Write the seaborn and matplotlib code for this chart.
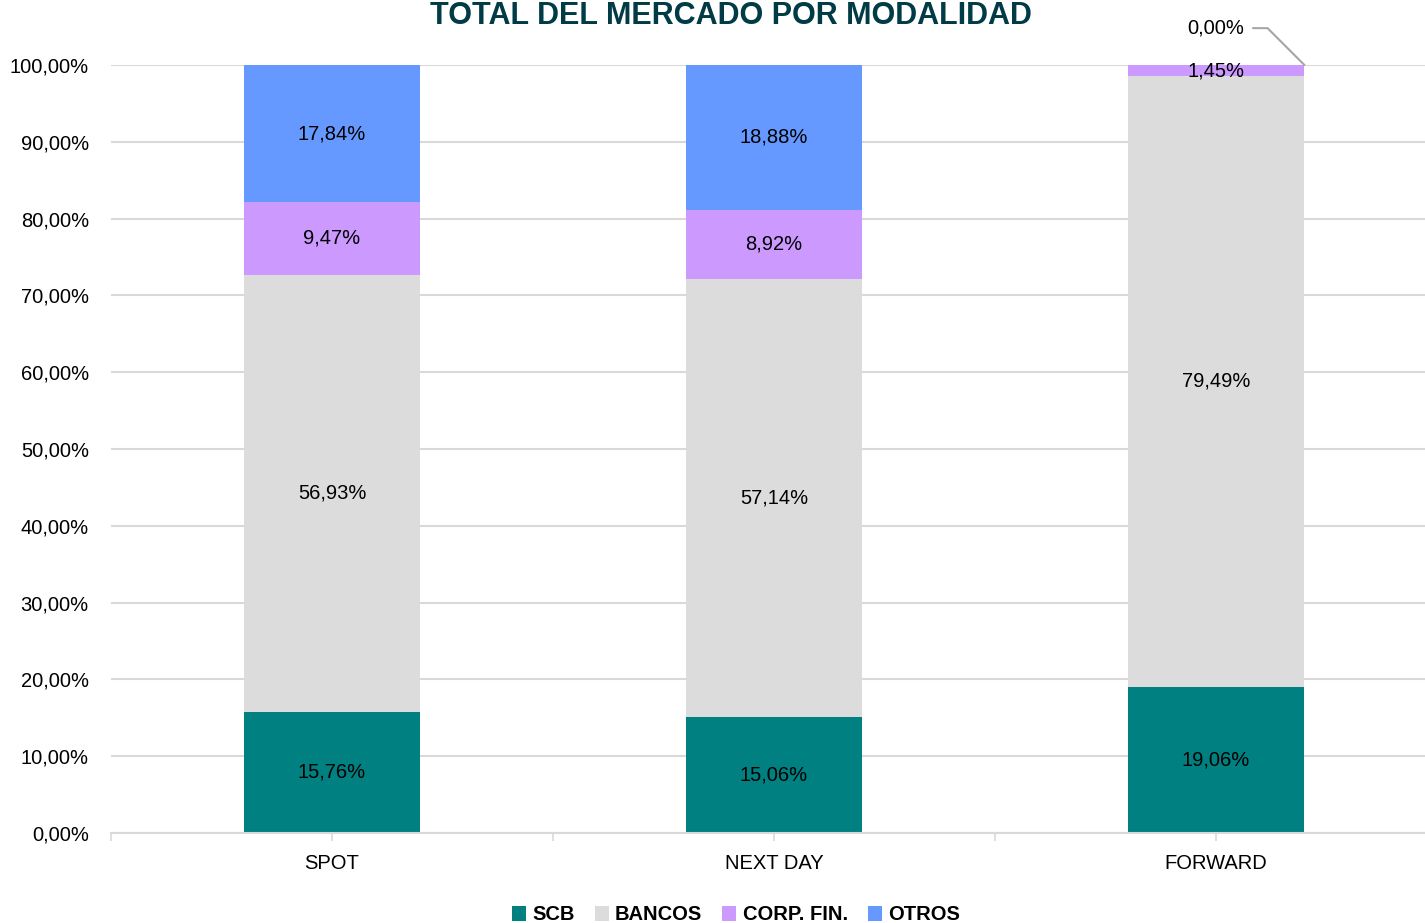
import numpy as np
import pandas as pd
import matplotlib
matplotlib.use("Agg")
import matplotlib.pyplot as plt
from matplotlib import font_manager
from matplotlib.ticker import FuncFormatter, FixedLocator
from matplotlib.patches import Patch
import seaborn as sns

categories = ["SPOT", "NEXT DAY", "FORWARD"]
series = ["SCB", "BANCOS", "CORP. FIN.", "OTROS"]
scb = [15.76, 15.06, 19.06]
bancos = [56.93, 57.14, 79.49]
corp_fin = [9.47, 8.92, 1.45]
otros = [17.84, 18.88, 0.00]
colors = ["#008080", "#DCDCDC", "#CC99FF", "#6699FF"]
title = "TOTAL DEL MERCADO POR MODALIDAD"

sns.set_theme(style="white")
names = {f.name for f in font_manager.fontManager.ttflist}
narrow = "Liberation Sans Narrow" in names
family = "Liberation Sans Narrow" if narrow else "Liberation Sans"
plt.rcParams["font.family"] = [family, "DejaVu Sans"]
fs = 16.5 if narrow else 14.5
fs_title = 25 if narrow else 22


def pct(v):
    return f"{v:.2f}".replace(".", ",") + "%"


values = np.array([scb, bancos, corp_fin, otros])
cum = values.cumsum(axis=0)
rows = []
for si, s in enumerate(series):
    for ci, c in enumerate(categories):
        rows.append({"cat": c, "serie": s, "val": values[si, ci],
                     "top": cum[si, ci], "base": cum[si, ci] - values[si, ci]})
df = pd.DataFrame(rows)

fig = plt.figure(figsize=(14.25, 9.23), dpi=100)
ax = fig.add_axes([111 / 1425, 90 / 923, 1326 / 1425, 768 / 923])

# stacked bars: draw cumulative totals from the top segment down
for si in range(len(series) - 1, -1, -1):
    sub = df[df["serie"] == series[si]]
    sns.barplot(data=sub, x="cat", y="top", order=categories, color=colors[si],
                width=0.40, saturation=1, ax=ax, edgecolor="none", linewidth=0,
                zorder=2)

ax.set_xlim(-0.5, 2.5)
ax.set_ylim(0, 100)
ax.set_xlabel("")
ax.set_ylabel("")
ax.yaxis.set_major_locator(FixedLocator(np.arange(0, 101, 10)))
ax.yaxis.set_major_formatter(FuncFormatter(lambda v, p: pct(v)))
ax.grid(axis="y", color="#D9D9D9", linewidth=1.5, zorder=0)
ax.set_axisbelow(True)
for sp in ["top", "right", "left"]:
    ax.spines[sp].set_visible(False)
ax.spines["bottom"].set_color("#D9D9D9")
ax.spines["bottom"].set_linewidth(1.5)
ax.spines["bottom"].set_zorder(3)

ax.tick_params(axis="y", length=0, pad=16, labelsize=fs, labelcolor="black")
ax.tick_params(axis="x", which="major", length=6, width=1.2, color="#D9D9D9",
               pad=9, labelsize=fs, labelcolor="black", bottom=True)
ax.set_xticks([-0.5, 0.5, 1.5, 2.5], minor=True)
ax.tick_params(axis="x", which="minor", length=6, width=1.2, color="#D9D9D9",
               bottom=True)

# segment labels
for _, r in df.iterrows():
    ci = categories.index(r["cat"])
    if r["val"] <= 0:
        continue
    ax.text(ci, (r["base"] + r["top"]) / 2, pct(r["val"]), ha="center",
            va="center", fontsize=fs, color="black", zorder=5)

# zero-height segment label with leader line
zero_rows = df[df["val"] <= 0]
for _, r in zero_rows.iterrows():
    ci = categories.index(r["cat"])
    ax.annotate(pct(r["val"]), xy=(ci + 0.20, r["top"]),
                xytext=(ci, r["top"] + 4.8), textcoords="data",
                ha="center", va="center", fontsize=fs, color="black",
                annotation_clip=False,
                arrowprops=dict(arrowstyle="-", color="#A6A6A6", lw=1.5,
                                shrinkA=0, shrinkB=0,
                                connectionstyle="angle,angleA=0,angleB=-45,rad=0",
                                relpos=(1.15, 0.5)))

fig.text(731 / 1425, (923 - 24) / 923, title, ha="center", va="baseline",
         fontsize=fs_title, fontweight="bold", color="#003B46")

handles = [Patch(facecolor=c, edgecolor="none") for c in colors]
leg = fig.legend(handles, series, loc="center", ncol=4,
                 bbox_to_anchor=(736 / 1425, (923 - 915) / 923), frameon=False,
                 prop={"size": fs, "weight": "bold"}, handlelength=0.7,
                 handleheight=0.7, handletextpad=0.3, columnspacing=1.0,
                 labelcolor="black")

fig.savefig("out.png", dpi=100)
